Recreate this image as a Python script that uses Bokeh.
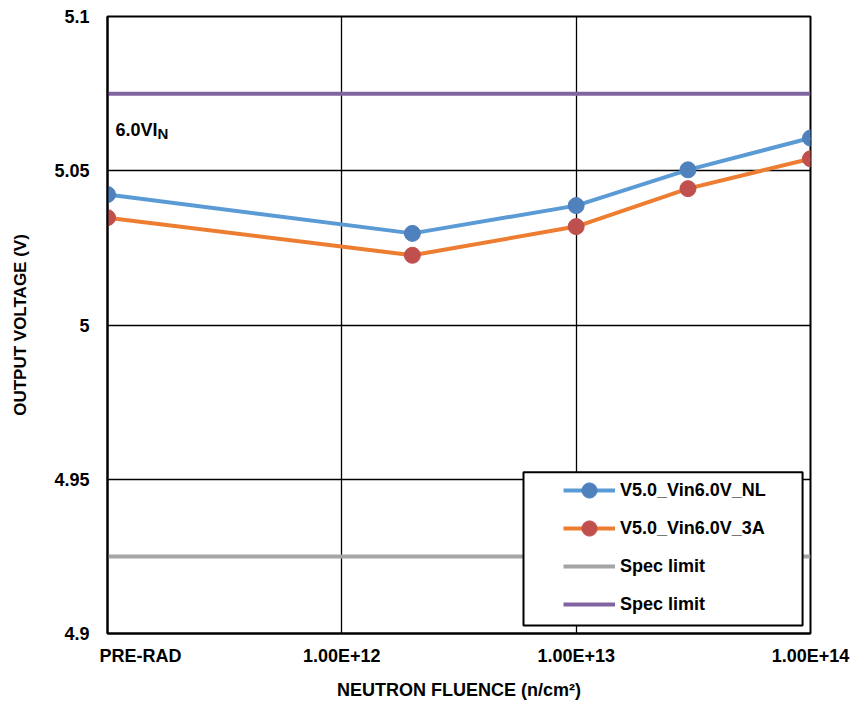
from bokeh.plotting import figure
from bokeh.models import (Range1d, FixedTicker, LegendItem, Legend, BoxAnnotation, Label)
from bokeh.embed import file_html
from bokeh.resources import INLINE

# ---- data ----
x_ticks = [1e11, 1e12, 1e13, 1e14]
x_tick_labels = ["PRE-RAD", "1.00E+12", "1.00E+13", "1.00E+14"]
y_ticks = [4.9, 4.95, 5.0, 5.05, 5.1]
y_tick_labels = ["4.9", "4.95", "5", "5.05", "5.1"]
fluence = [1e11, 2e12, 1e13, 3e13, 1e14]
v_nl = [5.0423, 5.0297, 5.0387, 5.0503, 5.0606]
v_3a = [5.0348, 5.0226, 5.0319, 5.0442, 5.0539]
spec_lower = 4.925
spec_upper = 5.075
series_names = ["V5.0_Vin6.0V_NL", "V5.0_Vin6.0V_3A", "Spec limit", "Spec limit"]

FONT = "Liberation Sans"
DECADE_PX = 703 / 3.0          # frame width per decade
PRE_RAD_SHIFT_PX = 33          # the first label sits inward, as in the original

p = figure(width=851, height=702, x_axis_type="log",
           x_range=Range1d(x_ticks[0], x_ticks[-1]), y_range=Range1d(y_ticks[0], y_ticks[-1]),
           output_backend="svg", toolbar_location=None,
           min_border_left=107, min_border_right=41, min_border_top=16, min_border_bottom=66)
p.background_fill_color = "white"
p.border_fill_color = "white"
p.outline_line_color = "black"
p.outline_line_width = 2

# x axis: label positions (first one shifted inward); grid stays on the real decades
label_pos = [x_ticks[0] * 10 ** (PRE_RAD_SHIFT_PX / DECADE_PX)] + x_ticks[1:]
p.xaxis.ticker = FixedTicker(ticks=label_pos)
p.xaxis.major_label_overrides = dict(zip(label_pos, x_tick_labels))
p.xgrid.ticker = FixedTicker(ticks=x_ticks)
p.yaxis.ticker = FixedTicker(ticks=y_ticks)
p.yaxis.major_label_overrides = dict(zip(y_ticks, y_tick_labels))
for ax in (p.xaxis, p.yaxis):
    ax.axis_line_color = "black"
    ax.axis_line_width = 2
    ax.major_tick_out = 0
    ax.major_tick_in = 0
    ax.minor_tick_out = 0
    ax.minor_tick_in = 0
    ax.major_label_text_font = FONT
    ax.major_label_text_font_style = "bold"
    ax.major_label_text_font_size = "18px"
    ax.major_label_text_color = "black"
    ax.axis_label_text_font = FONT
    ax.axis_label_text_font_style = "bold"
    ax.axis_label_text_color = "black"
p.yaxis.major_label_standoff = 18
p.yaxis.axis_label = "OUTPUT VOLTAGE (V)"
p.yaxis.axis_label_text_font_size = "17px"
p.yaxis.axis_label_standoff = 21
p.xaxis.axis_label = "NEUTRON FLUENCE (n/cm²)"
p.xaxis.axis_label_text_font_size = "18px"
p.xaxis.major_label_standoff = 12
p.xaxis.axis_label_standoff = 11

# grid
p.xgrid.grid_line_color = "black"
p.xgrid.grid_line_width = 1.3
p.ygrid.grid_line_color = "black"
p.ygrid.grid_line_width = 1.3

# spec limit lines
xr = [x_ticks[0], x_ticks[-1]]
r_low = p.line(xr, [spec_lower, spec_lower], line_color="#A5A5A5", line_width=4)
r_up = p.line(xr, [spec_upper, spec_upper], line_color="#8064A2", line_width=4)

# series
r_nl_l = p.line(fluence, v_nl, line_color="#5B9BD5", line_width=4)
r_nl_m = p.scatter(fluence, v_nl, size=16, fill_color="#4F81BD", line_color="#4F81BD")
r_3a_l = p.line(fluence, v_3a, line_color="#ED7D31", line_width=4)
r_3a_m = p.scatter(fluence, v_3a, size=16, fill_color="#C0504D", line_color="#C0504D")

# annotation 6.0VI_N
p.add_layout(Label(x=x_ticks[0], y=y_ticks[-1], x_offset=8, y_offset=-113, text="6.0VI",
                   text_font=FONT, text_font_style="bold", text_font_size="18px",
                   text_baseline="alphabetic", text_color="black"))
p.add_layout(Label(x=x_ticks[0], y=y_ticks[-1], x_offset=50, y_offset=-117, text="N",
                   text_font=FONT, text_font_style="bold", text_font_size="15px",
                   text_baseline="alphabetic", text_color="black"))

# legend box
p.add_layout(BoxAnnotation(left=5.96e12, right=9.25e13, bottom=4.9026, top=4.9523,
                           fill_color="white", fill_alpha=1.0, line_color="black",
                           line_width=2, line_alpha=1.0))

legend = Legend(items=[
    LegendItem(label=series_names[0], renderers=[r_nl_l, r_nl_m]),
    LegendItem(label=series_names[1], renderers=[r_3a_l, r_3a_m]),
    LegendItem(label=series_names[2], renderers=[r_low]),
    LegendItem(label=series_names[3], renderers=[r_up]),
], location=(451, 5), orientation="vertical", padding=5, spacing=0,
    label_height=38, glyph_height=38, glyph_width=52, label_standoff=5,
    label_text_font=FONT, label_text_font_style="bold", label_text_font_size="18px",
    label_text_color="black", border_line_alpha=0, background_fill_alpha=0)
p.add_layout(legend, "center")

open("out.html", "w").write(file_html(p, INLINE))
